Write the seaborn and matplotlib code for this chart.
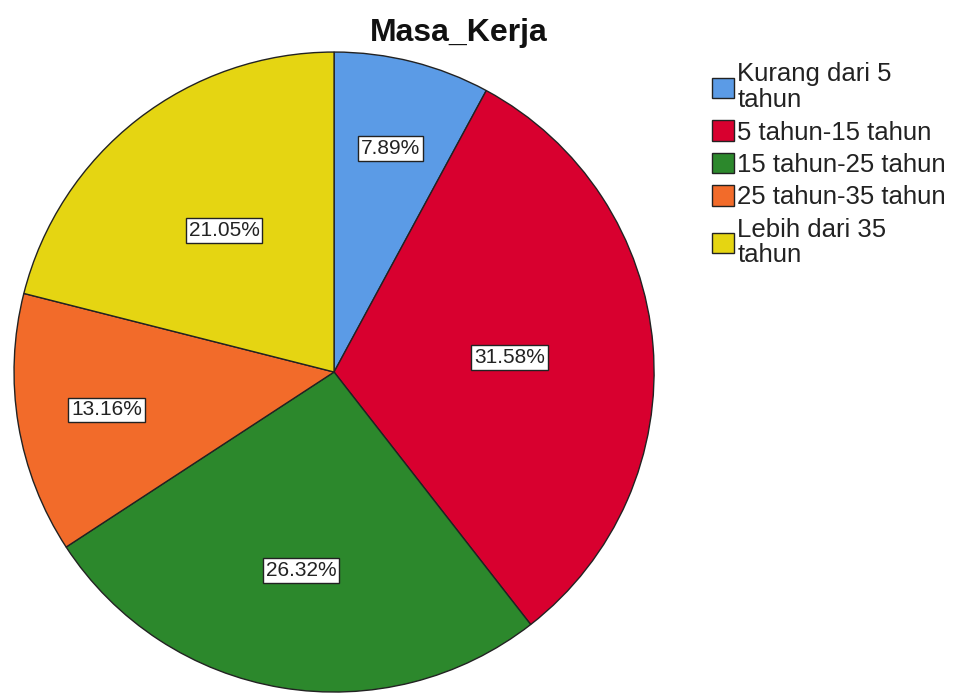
import numpy as np
import matplotlib
matplotlib.use('Agg')
import matplotlib.pyplot as plt
import matplotlib.patches as mpatches
import seaborn as sns

categories = ['Kurang dari 5\ntahun', '5 tahun-15 tahun', '15 tahun-25 tahun',
              '25 tahun-35 tahun', 'Lebih dari 35\ntahun']
percentages = [7.89, 31.58, 26.32, 13.16, 21.05]
colors = ['#5B9BE6', '#D8002F', '#2C882C', '#F26B2A', '#E5D512']

# radial position of each percentage label (fraction of radius)
label_dist = [0.72, 0.55, 0.63, 0.72, 0.56]

sns.set_style('white')
plt.rcParams['font.family'] = ['Liberation Sans', 'DejaVu Sans']

pal = sns.color_palette(colors)

fig = plt.figure(figsize=(9.55, 6.93), dpi=100)
ax = fig.add_axes([0.0147, 0.0014, 0.6702, 0.9235])

wedges, texts, autotexts = ax.pie(
    percentages, colors=pal, startangle=90, counterclock=False,
    autopct=lambda p: f'{p:.2f}%', pctdistance=0.6,
    wedgeprops=dict(edgecolor='#222222', linewidth=1.0),
    textprops=dict(fontsize=15, color='#222222'))

for w, t, d in zip(wedges, autotexts, label_dist):
    ang = np.deg2rad((w.theta1 + w.theta2) / 2)
    t.set_position((d * np.cos(ang), d * np.sin(ang)))
    t.set_bbox(dict(boxstyle='square,pad=0.14', facecolor='white',
                    edgecolor='#222222', linewidth=1.0))

ax.set_xlim(-1, 1)
ax.set_ylim(-1, 1)
ax.set_aspect('auto')
ax.axis('off')

fig.text(0.48, 0.952, 'Masa_Kerja', ha='center', va='center',
         fontsize=23, fontweight='bold', color='#111111')

handles = [mpatches.Patch(facecolor=c, edgecolor='#222222', linewidth=1.0) for c in pal]
leg = fig.legend(handles, categories, loc='upper left', bbox_to_anchor=(0.746, 0.91),
                 frameon=False, fontsize=18.5, handlelength=0.85, handleheight=0.85,
                 handletextpad=0.12, labelspacing=0.32, borderaxespad=0, borderpad=0)
for t in leg.get_texts():
    t.set_linespacing(1.1)
    t.set_color('#222222')

fig.savefig('out.png', dpi=100)
